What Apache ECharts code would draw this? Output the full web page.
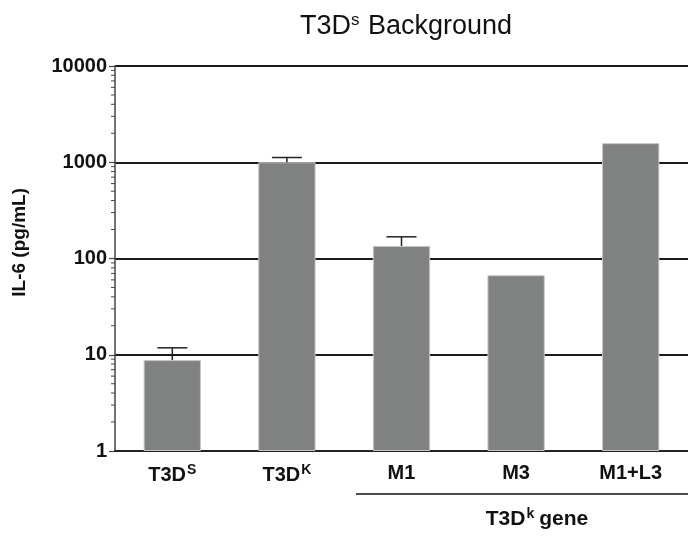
<!DOCTYPE html>
<html>
<head>
<meta charset="utf-8">
<script src="https://cdn.jsdelivr.net/npm/echarts@6/dist/echarts.min.js"></script>
<style>html,body{margin:0;padding:0;background:#fff;}#c{width:688px;height:536px;}</style>
</head>
<body>
<div id="c"></div>
<script>
const categories = ['T3DS', 'T3DK', 'M1', 'M3', 'M1+L3'];
const categoryLabels = ['T3D{sup|S}', 'T3D{sup|K}', 'M1', 'M3', 'M1+L3'];
const il6Values = [8.8, 1000, 135, 67, 1580];
const il6Upper = [11.8, 1120, 168, null, null];
const yTicks = [1, 10, 100, 1000, 10000];
const minorTickValues = [];
[1, 10, 100, 1000].forEach(function (d) { for (let m = 2; m <= 9; m++) minorTickValues.push(m * d); });

const chart = echarts.init(document.getElementById('c'));
const font = 'Liberation Sans, Arial, sans-serif';

const errData = [];
il6Values.forEach(function (v, i) { if (il6Upper[i] != null) errData.push([i, v, il6Upper[i]]); });

chart.setOption({
  animation: false,
  backgroundColor: '#ffffff',
  title: {
    text: 'T3D{s|s} Background',
    left: 401, top: 7, textAlign: 'center',
    textStyle: {
      fontFamily: font, fontSize: 27, fontWeight: 'normal', color: '#111',
      rich: { s: { fontFamily: font, fontSize: 17, color: '#111', verticalAlign: 'top', padding: [0, 1, 12, 0] } }
    }
  },
  grid: { left: 115, right: 0, top: 66, bottom: 85, containLabel: false },
  xAxis: {
    type: 'category',
    data: categories,
    axisLine: { lineStyle: { color: '#222', width: 2 } },
    axisTick: { alignWithLabel: true, length: 6, lineStyle: { color: '#333', width: 1.2 } },
    axisLabel: {
      interval: 0, margin: 12,
      formatter: function (v, i) { return categoryLabels[i]; },
      fontFamily: font, fontSize: 20, fontWeight: 'bold', color: '#111',
      rich: { sup: { fontFamily: font, fontSize: 14, fontWeight: 'bold', color: '#111', verticalAlign: 'top', padding: [0, 0, 10, 1] } }
    }
  },
  yAxis: {
    type: 'log', logBase: 10, min: 1, max: 10000,
    axisLine: { show: true, lineStyle: { color: '#444', width: 1.5 } },
    axisTick: { show: true, inside: false, length: 6, lineStyle: { color: '#444', width: 1.2 } },
    axisLabel: {
      margin: 8, fontFamily: font, fontSize: 20, fontWeight: 'bold', color: '#111',
      formatter: function (v) { return yTicks.indexOf(Math.round(v)) >= 0 ? String(Math.round(v)) : ''; }
    },
    splitLine: { show: true, lineStyle: { color: '#1a1a1a', width: 2 } }
  },
  series: [
    {
      type: 'bar', data: il6Values, barWidth: '50%',
      itemStyle: { color: '#808281', borderColor: '#c4c6c5', borderWidth: 1 },
      z: 3
    },
    {
      type: 'custom', data: errData, z: 4,
      renderItem: function (params, api) {
        const x = api.coord([api.value(0), api.value(1)])[0];
        const yb = api.coord([api.value(0), api.value(1)])[1];
        const yt = api.coord([api.value(0), api.value(2)])[1];
        const hw = 15;
        return {
          type: 'group',
          children: [
            { type: 'line', shape: { x1: x, y1: yb, x2: x, y2: yt }, style: { stroke: '#222', lineWidth: 1.5 } },
            { type: 'line', shape: { x1: x - hw, y1: yt, x2: x + hw, y2: yt }, style: { stroke: '#222', lineWidth: 1.5 } }
          ]
        };
      }
    },
    {
      type: 'custom', data: minorTickValues.map(function (v) { return [0, v]; }), z: 5,
      renderItem: function (params, api) {
        const y = api.coord([0, api.value(1)])[1];
        const x0 = params.coordSys.x;
        return { type: 'line', shape: { x1: x0 - 4, y1: y, x2: x0, y2: y }, style: { stroke: '#444', lineWidth: 1 } };
      }
    }
  ],
  graphic: [
    {
      type: 'text', left: 10, top: 188, rotation: Math.PI / 2,
      style: { text: 'IL-6 (pg/mL)', fontFamily: font, fontSize: 19, fontWeight: 'bold', fill: '#111' }
    },
    {
      type: 'line', shape: { x1: 356, y1: 494, x2: 688, y2: 494 }, style: { stroke: '#111', lineWidth: 1.5 }
    },
    {
      type: 'text', x: 537, y: 507,
      style: {
        text: 'T3D{sup|k}gene', align: 'center', fontFamily: font, fontSize: 21, fontWeight: 'bold', fill: '#111',
        rich: { sup: { fontFamily: font, fontSize: 14, fontWeight: 'bold', fill: '#111', verticalAlign: 'top', padding: [0, 5, 10, 1] } }
      }
    }
  ]
});
</script>
</body>
</html>
